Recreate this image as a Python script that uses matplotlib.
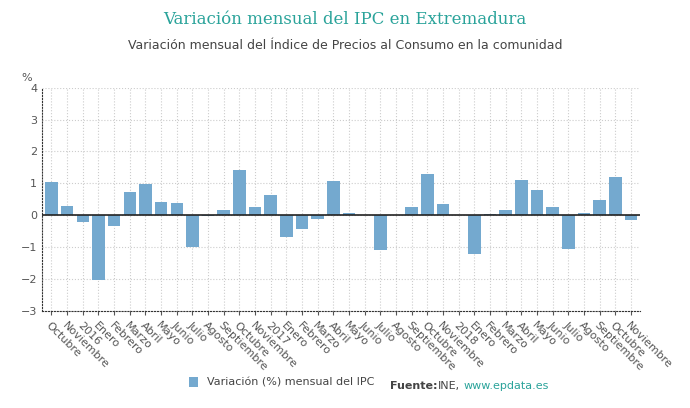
import matplotlib.pyplot as plt

labels = ["Octubre", "Noviembre", "2016", "Enero", "Febrero", "Marzo", "Abril", "Mayo",
          "Junio", "Julio", "Agosto", "Septiembre", "Octubre", "Noviembre", "2017", "Enero",
          "Febrero", "Marzo", "Abril", "Mayo", "Junio", "Julio", "Agosto", "Septiembre",
          "Octubre", "Noviembre", "2018", "Enero", "Febrero", "Marzo", "Abril", "Mayo",
          "Junio", "Julio", "Agosto", "Septiembre", "Octubre", "Noviembre"]
values = [1.05, 0.28, -0.22, -2.02, -0.33, 0.72, 0.97, 0.40, 0.38, -1.00, -0.03, 0.15,
          1.42, 0.25, 0.63, -0.68, -0.42, -0.12, 1.08, 0.08, 0.0, -1.10, 0.02, 0.27,
          1.30, 0.35, 0.0, -1.22, 0.05, 0.15, 1.10, 0.80, 0.27, -1.07, 0.08, 0.48,
          1.20, -0.15]

fig = plt.figure(figsize=(6.9, 4.08), dpi=100)
ax = fig.add_axes([0.061, 0.238, 0.867, 0.547])
x = range(len(values))
bars = ax.bar(x, values, width=0.8, color="#74a9cf", label="Variación (%) mensual del IPC", zorder=3)
ax.axhline(0, color="#222222", lw=1.2, zorder=4)
ax.set_xlim(-0.6, len(values) - 0.4)
ax.set_ylim(-3, 4)
ax.set_yticks(range(-3, 5))
ax.set_xticks(list(x))
ax.set_xticklabels(labels, rotation=-45, ha="left", rotation_mode="anchor", fontsize=8, color="#555555")
ax.tick_params(axis="y", labelsize=8, colors="#555555", length=0)
ax.tick_params(axis="x", length=3, colors="#555555")
ax.grid(True, color="#cccccc", ls=":", lw=0.8, zorder=0)
for s in ["top", "right"]:
    ax.spines[s].set_visible(False)
ax.spines["left"].set_linestyle(":")
ax.spines["bottom"].set_linestyle(":")
ax.spines["left"].set_color("#333333")
ax.spines["bottom"].set_color("#333333")
ax.text(-0.035, 1.03, "%", transform=ax.transAxes, fontsize=8, color="#555555")

fig.text(0.5, 0.94, "Variación mensual del IPC en Extremadura", ha="center", fontsize=12,
         color="#2aa39a", family="DejaVu Serif")
fig.text(0.5, 0.88, "Variación mensual del Índice de Precios al Consumo en la comunidad",
         ha="center", fontsize=9, color="#444444")
fig.legend(handles=[bars], loc="lower left", bbox_to_anchor=(0.26, 0.025), frameon=False,
           fontsize=8, handlelength=0.8, handleheight=0.9, labelcolor="#444444")
fig.text(0.565, 0.047, "Fuente:", fontsize=8, weight="bold", color="#444444")
fig.text(0.635, 0.047, "INE,", fontsize=8, color="#444444")
fig.text(0.672, 0.047, "www.epdata.es", fontsize=8, color="#2aa39a")
fig.savefig("out.png")
